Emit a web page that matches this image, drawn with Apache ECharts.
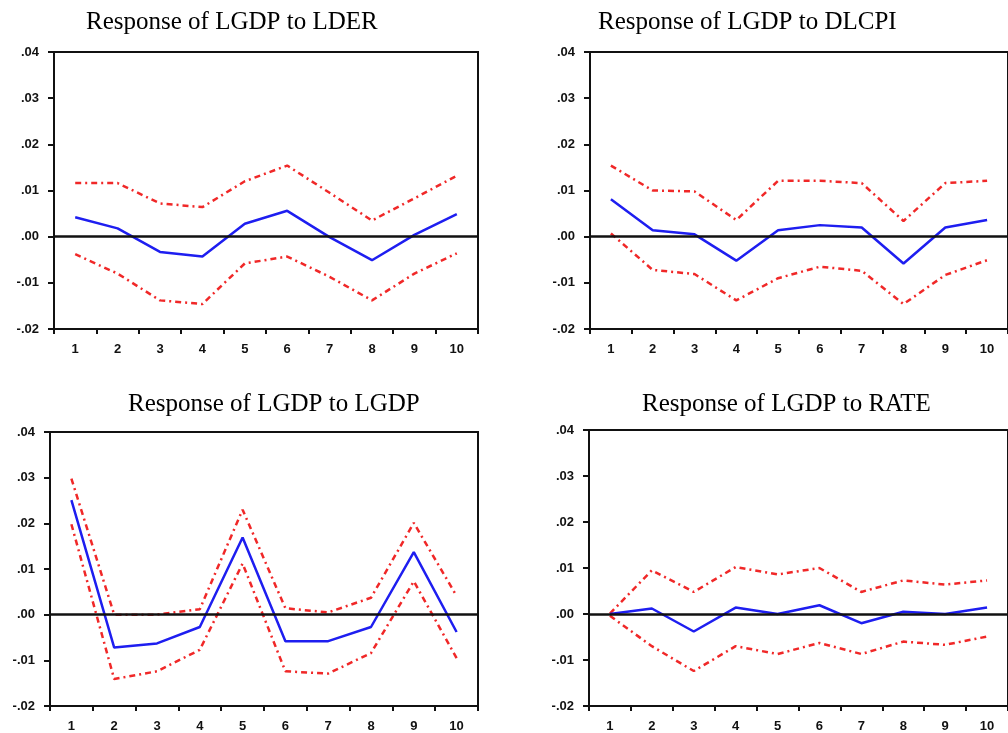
<!DOCTYPE html>
<html>
<head>
<meta charset="UTF-8">
<title>Impulse responses of LGDP</title>
<style type="text/css">
	html, body { margin: 0; padding: 0; background: #fff; }
	#main { width: 1008px; height: 733px; }
</style>
</head>
<body>
<div id="main"></div>
<script src="https://cdn.jsdelivr.net/npm/echarts@6/dist/echarts.min.js"></script>
<script type="text/javascript">
// periods on the x axis
var periods = ['1', '2', '3', '4', '5', '6', '7', '8', '9', '10'];
var panelTitles = ['Response of LGDP to LDER', 'Response of LGDP to DLCPI',
                   'Response of LGDP to LGDP', 'Response of LGDP to RATE'];

// LDER
var lderResp  = [0.0042, 0.0018, -0.0033, -0.0043, 0.0028, 0.0056, -0.0001, -0.0051, 0.0004, 0.0049];
var lderUpper = [0.0116, 0.0116, 0.0072, 0.0064, 0.0120, 0.0154, 0.0095, 0.0035, 0.0083, 0.0132];
var lderLower = [-0.0038, -0.0080, -0.0138, -0.0146, -0.0058, -0.0043, -0.0087, -0.0138, -0.0080, -0.0036];

// DLCPI
var cpiResp  = [0.0081, 0.0014, 0.0005, -0.0052, 0.0014, 0.0025, 0.0020, -0.0058, 0.0020, 0.0036];
var cpiUpper = [0.0154, 0.0100, 0.0098, 0.0036, 0.0121, 0.0121, 0.0116, 0.0034, 0.0116, 0.0121];
var cpiLower = [0.0007, -0.0072, -0.0081, -0.0138, -0.0090, -0.0065, -0.0074, -0.0146, -0.0083, -0.0051];

// LGDP
var gdpResp  = [0.0251, -0.0072, -0.0063, -0.0027, 0.0169, -0.0058, -0.0058, -0.0027, 0.0137, -0.0038];
var gdpUpper = [0.0298, 0.0000, 0.0000, 0.0012, 0.0230, 0.0014, 0.0005, 0.0037, 0.0201, 0.0041];
var gdpLower = [0.0198, -0.0141, -0.0124, -0.0077, 0.0112, -0.0124, -0.0129, -0.0084, 0.0073, -0.0095];

// RATE
var rateResp  = [0.0000, 0.0012, -0.0038, 0.0014, 0.0000, 0.0019, -0.0020, 0.0005, 0.0000, 0.0014];
var rateUpper = [0.0001, 0.0095, 0.0048, 0.0102, 0.0086, 0.0100, 0.0048, 0.0073, 0.0064, 0.0073];
var rateLower = [-0.0004, -0.0070, -0.0124, -0.0070, -0.0087, -0.0063, -0.0087, -0.0060, -0.0067, -0.0049];

var yMin = -0.02, yMax = 0.04, yStep = 0.01;

var panels = [
	{ resp: lderResp, up: lderUpper, lo: lderLower },
	{ resp: cpiResp, up: cpiUpper, lo: cpiLower },
	{ resp: gdpResp, up: gdpUpper, lo: gdpLower },
	{ resp: rateResp, up: rateUpper, lo: rateLower }
];

var grids = [
	{ left: 54, top: 52, width: 424, height: 277 },
	{ left: 590, top: 52, width: 421, height: 277 },
	{ left: 50, top: 432, width: 428, height: 277 },
	{ left: 589, top: 430, width: 422, height: 278 }
];
var titlePos = [
	{ left: 81, top: 5 },
	{ left: 593, top: 5 },
	{ left: 123, top: 387 },
	{ left: 637, top: 387 }
];

function fmt(v) {
	var s = Math.abs(v).toFixed(2).slice(1);
	return (v < -1e-9 ? '-' : '') + s;
}

var blue = '#1e1ef0', red = '#f02828';
var option = { animation: false, title: [], grid: [], xAxis: [], yAxis: [], series: [] };

for (var i = 0; i < 4; i++) {
	option.title.push({
		text: panelTitles[i], left: titlePos[i].left, top: titlePos[i].top,
		textStyle: { fontFamily: 'Liberation Serif', fontWeight: 'normal', fontSize: 25, color: '#000' }
	});
	option.grid.push({
		left: grids[i].left, top: grids[i].top, width: grids[i].width, height: grids[i].height,
		show: true, borderColor: '#111', borderWidth: 2, backgroundColor: '#fff'
	});
	option.xAxis.push({
		type: 'category', gridIndex: i, data: periods, boundaryGap: true,
		axisLine: { onZero: false, lineStyle: { color: '#111', width: 2 } },
		axisTick: { show: true, interval: 0, length: 5, lineStyle: { color: '#111', width: 2 } },
		axisLabel: { interval: 0, margin: 14, color: '#111', fontFamily: 'Arial', fontWeight: 'bold', fontSize: 13 },
		splitLine: { show: false }
	});
	option.yAxis.push({
		type: 'value', gridIndex: i, min: yMin, max: yMax, interval: yStep,
		axisLine: { show: true, onZero: false, lineStyle: { color: '#111', width: 2 } },
		axisTick: { show: true, length: 6, lineStyle: { color: '#111', width: 2 } },
		axisLabel: { margin: 15, color: '#111', fontFamily: 'Arial', fontWeight: 'bold', fontSize: 13, formatter: fmt },
		splitLine: { show: false }
	});
	var p = panels[i];
	option.series.push({
		type: 'line', xAxisIndex: i, yAxisIndex: i, data: p.up, symbol: 'none', z: 2,
		lineStyle: { color: red, width: 2.5, type: [6, 4, 2, 4] }
	});
	option.series.push({
		type: 'line', xAxisIndex: i, yAxisIndex: i, data: p.lo, symbol: 'none', z: 2,
		lineStyle: { color: red, width: 2.5, type: [6, 4, 2, 4] }
	});
	option.series.push({
		type: 'line', xAxisIndex: i, yAxisIndex: i, data: p.resp, symbol: 'none', z: 3,
		lineStyle: { color: blue, width: 2.5 }
	});
	// zero line on top
	option.series.push({
		type: 'line', xAxisIndex: i, yAxisIndex: i, data: [], z: 5,
		markLine: {
			silent: true, symbol: 'none', label: { show: false },
			lineStyle: { color: '#111', width: 2.5, type: 'solid' },
			data: [{ yAxis: 0 }]
		}
	});
}

var myChart = echarts.init(document.getElementById('main'));
myChart.setOption(option);
</script>
</body>
</html>
